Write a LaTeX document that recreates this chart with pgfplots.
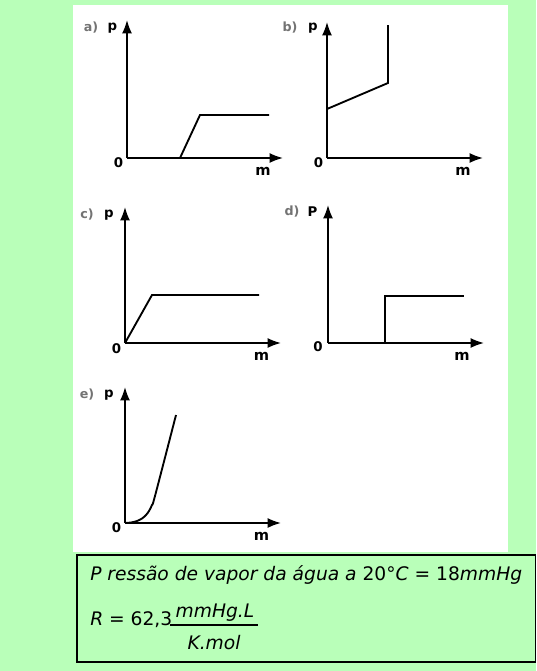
\documentclass[border=0pt]{standalone}
\usepackage{fontspec}
\setmainfont{DejaVu Sans}
\newfontfamily\dv{DejaVu Sans}
\usepackage{pgfplots}
\pgfplotsset{compat=1.18}
\usetikzlibrary{arrows.meta}
\definecolor{bg}{RGB}{185,255,185}
\pgfplotsset{
  panel/.style={scale only axis, width=117pt, axis lines=left,
    xmin=0, xmax=156, ymin=0, enlargelimits=false,
    xtick=\empty, ytick=\empty, clip=false, anchor=south west,
    axis line style={line width=1.3pt, -{Latex[length=10pt,width=7.5pt]}}},
  curve/.style={black, line width=1.4pt, no markers},
}
\tikzset{
  plab/.style={font=\fontsize{10}{11}\selectfont\bfseries, inner sep=0pt},
  mlab/.style={font=\fontsize{11}{12}\selectfont\bfseries, inner sep=0pt},
  llab/.style={font=\fontsize{9.5}{10}\selectfont\bfseries, text=black!55, inner sep=0pt},
  ftxt/.style={inner sep=0pt, font=\dv\fontsize{14}{16}\selectfont},
}
\begin{document}
\begin{tikzpicture}
\begin{scope}[x=0.75pt,y=-0.75pt]
  \useasboundingbox (0,0) rectangle (536,671);
  \fill[bg] (0,0) rectangle (536,671);
  \fill[white] (73,5) rectangle (508,552);
  \draw[line width=0.8pt] (77,555) rectangle (535.5,662);
  \node[ftxt, anchor=base west] at (90,580)
    {\itshape P ressão de vapor da água a \upshape 20°\itshape C \upshape = 18\itshape mmHg};
  \node[ftxt, anchor=base west] at (90,625)
    {\itshape R \upshape = 62,3};
  \node[ftxt, anchor=base] at (215,617) {\itshape mmHg.L};
  \node[ftxt, anchor=base] at (214,649) {\itshape K.mol};
  \draw[line width=0.8pt] (170,625) -- (258,625);
\end{scope}

% a)
\begin{axis}[panel, at={(95.25pt,-118.5pt)}, ymax=138, height=103.5pt]
  \addplot[curve] coordinates {(0,0) (53,0) (73,43) (142,43)};
  \node[llab] at (axis cs:-36,130) {a)};
  \node[plab] at (axis cs:-14.5,130) {p};
  \node[plab] at (axis cs:-8.5,-5) {0};
  \node[mlab] at (axis cs:136,-13.5) {m};
\end{axis}
% b)
\begin{axis}[panel, at={(245.25pt,-118.5pt)}, ymax=136, height=102pt]
  \addplot[curve] coordinates {(0,49) (61,75) (61,133)};
  \node[llab] at (axis cs:-37,130) {b)};
  \node[plab] at (axis cs:-14,130) {p};
  \node[plab] at (axis cs:-8.5,-5) {0};
  \node[mlab] at (axis cs:136,-13.5) {m};
\end{axis}
% c)
\begin{axis}[panel, at={(93.75pt,-257.25pt)}, ymax=136, height=102pt]
  \addplot[curve] coordinates {(0,0) (27,48) (134,48)};
  \node[llab] at (axis cs:-38,128) {c)};
  \node[plab] at (axis cs:-16,128) {p};
  \node[plab] at (axis cs:-8.5,-6) {0};
  \node[mlab] at (axis cs:136.5,-13) {m};
\end{axis}
% d)
\begin{axis}[panel, at={(246pt,-257.25pt)}, ymax=138, height=103.5pt]
  \addplot[curve] coordinates {(0,0) (57,0) (57,47) (136,47)};
  \node[llab] at (axis cs:-36,131) {d)};
  \node[plab] at (axis cs:-15.5,131) {P};
  \node[plab] at (axis cs:-10,-4) {0};
  \node[mlab] at (axis cs:134,-13) {m};
\end{axis}
% e)
\begin{axis}[panel, at={(93.75pt,-392.25pt)}, ymax=136, height=102pt]
  \addplot[curve, smooth] coordinates {(0,0) (6,0.5) (12,2) (17,4.5) (21,8) (24,12) (27,18) (30,27) (51,108)};
  \node[llab] at (axis cs:-38,128) {e)};
  \node[plab] at (axis cs:-16,128) {p};
  \node[plab] at (axis cs:-8.5,-5) {0};
  \node[mlab] at (axis cs:136.5,-13) {m};
\end{axis}
\end{tikzpicture}
\end{document}
